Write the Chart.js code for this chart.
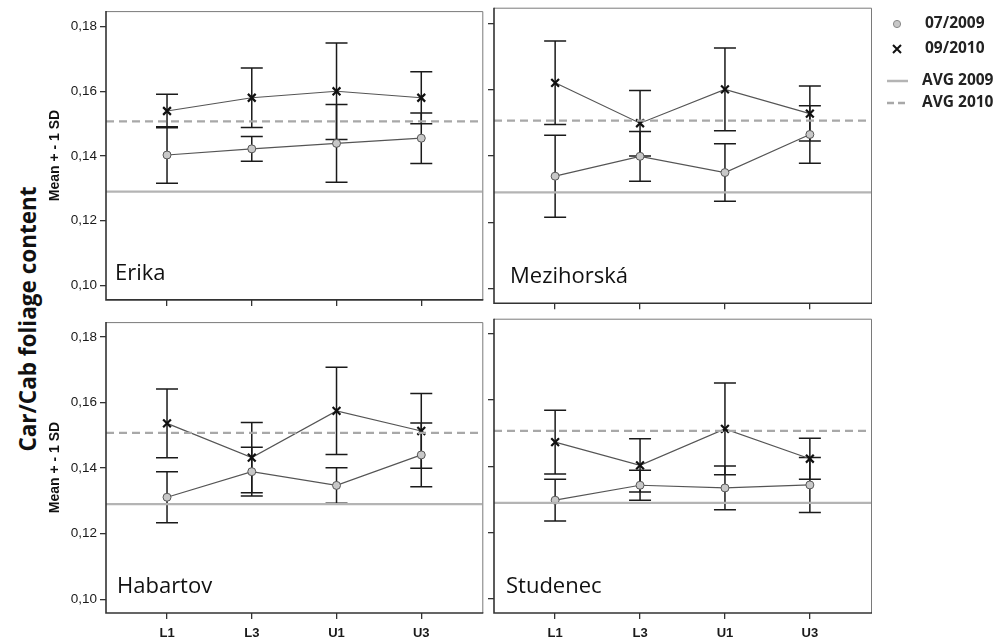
<!DOCTYPE html>
<html>
<head>
<meta charset="utf-8">
<script src="https://cdn.jsdelivr.net/npm/chart.js@4.4.0/dist/chart.umd.min.js"></script>
<style>
  body { margin: 0; background: #fff; width: 998px; height: 642px; position: relative; overflow: hidden; }
  canvas { position: absolute; }
  #bigTitle {
    position: absolute; left: 27px; top: 319px;
    transform: translate(-50%, -50%) rotate(-90deg);
    white-space: nowrap; font: bold 22.5px "Open Sans", sans-serif; color: #111;
  }
</style>
</head>
<body>
<div id="bigTitle">Car/Cab foliage content</div>
<canvas id="c0" width="490" height="311" style="left:0;top:0"></canvas>
<canvas id="c1" width="514" height="311" style="left:484px;top:0"></canvas>
<canvas id="c2" width="490" height="331" style="left:0;top:311px"></canvas>
<canvas id="c3" width="514" height="331" style="left:484px;top:311px"></canvas>
<script>
const categories = ["L1", "L3", "U1", "U3"];
const sites = ["Erika", "Mezihorská", "Habartov", "Studenec"];

// means and standard deviations, one row per site
const mean2009 = [
  [0.1403, 0.1422, 0.1439, 0.1455],
  [0.1339, 0.1399, 0.1350, 0.1465],
  [0.1311, 0.1389, 0.1347, 0.1440],
  [0.1298, 0.1343, 0.1335, 0.1344],
];
const sd2009 = [
  [0.0087, 0.0038, 0.0120, 0.0078],
  [0.0124, 0.0075, 0.0087, 0.0087],
  [0.0078, 0.0074, 0.0054, 0.0097],
  [0.0063, 0.0045, 0.0066, 0.0083],
];
const mean2010 = [
  [0.1539, 0.1580, 0.1600, 0.1580],
  [0.1621, 0.1499, 0.1601, 0.1528],
  [0.1536, 0.1432, 0.1574, 0.1513],
  [0.1473, 0.1403, 0.1513, 0.1423],
];
const sd2010 = [
  [0.0052, 0.0092, 0.0149, 0.0080],
  [0.0126, 0.0099, 0.0125, 0.0083],
  [0.0105, 0.0107, 0.0133, 0.0114],
  [0.0096, 0.0080, 0.0138, 0.0062],
];
const AVG_2009 = 0.1290;
const AVG_2010 = 0.1507;
const yTicks = [0.10, 0.12, 0.14, 0.16, 0.18];
const legendLabels = ["07/2009", "09/2010", "AVG 2009", "AVG 2010"];

const X_MIN = -0.72, X_MAX = 3.72;
const CAP = 11;

// panel layout (canvas-local chart areas)
const panels = [
  { id: "c0", site: 0, pad: { left: 40, top: 6, right: 7 }, yW: 66, xH: 6, yMin: 0.09552, yMax: 0.18478, yLab: true, xLab: false, nameX: 9 },
  { id: "c1", site: 1, pad: { left: 0, top: 6, right: 127 }, yW: 10, xH: 6, yMin: 0.09552, yMax: 0.18478, yLab: false, xLab: false, nameX: 16, legend: true },
  { id: "c2", site: 2, pad: { left: 40, top: 5, right: 7 }, yW: 66, xH: 29, yMin: 0.09582, yMax: 0.18448, yLab: true, xLab: true, nameX: 11 },
  { id: "c3", site: 3, pad: { left: 0, top: 5, right: 127 }, yW: 10, xH: 29, yMin: 0.09582, yMax: 0.18448, yLab: false, xLab: true, nameX: 12 },
];

const errorBars = {
  id: "errorBars",
  beforeDatasetsDraw(chart) {
    const { ctx, scales: { x, y } } = chart;
    ctx.save();
    ctx.strokeStyle = "#1a1a1a";
    ctx.lineWidth = 1.5;
    chart.data.datasets.forEach(ds => {
      if (!ds.sd) return;
      ds.data.forEach((pt, i) => {
        const px = x.getPixelForValue(pt.x);
        const top = y.getPixelForValue(pt.y + ds.sd[i]);
        const bot = y.getPixelForValue(pt.y - ds.sd[i]);
        ctx.beginPath();
        ctx.moveTo(px, top); ctx.lineTo(px, bot);
        ctx.moveTo(px - CAP, top); ctx.lineTo(px + CAP, top);
        ctx.moveTo(px - CAP, bot); ctx.lineTo(px + CAP, bot);
        ctx.stroke();
      });
    });
    ctx.restore();
  }
};

const frame = {
  id: "frame",
  afterDraw(chart, args, opts) {
    const { ctx, chartArea: a } = chart;
    ctx.save();
    ctx.lineWidth = 1;
    ctx.strokeStyle = "#7a7a7a";
    ctx.beginPath();
    ctx.moveTo(a.left, a.top + 0.5); ctx.lineTo(a.right + 0.5, a.top + 0.5); ctx.lineTo(a.right + 0.5, a.bottom);
    ctx.stroke();
    ctx.lineWidth = 1.6;
    ctx.strokeStyle = "#333";
    ctx.beginPath();
    ctx.moveTo(a.left, a.top); ctx.lineTo(a.left, a.bottom); ctx.lineTo(a.right + 1, a.bottom);
    ctx.stroke();
    // site name
    ctx.fillStyle = "#111";
    ctx.font = '22px "Open Sans", sans-serif';
    ctx.textBaseline = "alphabetic";
    ctx.fillText(opts.name, a.left + opts.dx, a.bottom - 20);
    ctx.restore();
  }
};

const legendBox = {
  id: "legendBox",
  afterDraw(chart, args, opts) {
    if (!opts.show) return;
    const { ctx } = chart;
    const mx = 413, tx = 438, ys = [24, 49, 81, 103];
    ctx.save();
    ctx.font = 'bold 15.5px "Open Sans", sans-serif';
    ctx.fillStyle = "#222";
    ctx.textBaseline = "middle";
    legendLabels.forEach((t, i) => ctx.fillText(t, i < 2 ? tx + 3 : tx, ys[i]));
    // markers
    ctx.beginPath();
    ctx.arc(mx, ys[0], 3.6, 0, Math.PI * 2);
    ctx.fillStyle = "#c8c8c8"; ctx.fill();
    ctx.strokeStyle = "#888"; ctx.lineWidth = 1; ctx.stroke();
    ctx.strokeStyle = "#111"; ctx.lineWidth = 2;
    ctx.beginPath();
    ctx.moveTo(mx - 4, ys[1] - 4); ctx.lineTo(mx + 4, ys[1] + 4);
    ctx.moveTo(mx + 4, ys[1] - 4); ctx.lineTo(mx - 4, ys[1] + 4);
    ctx.stroke();
    ctx.lineWidth = 2.5;
    ctx.strokeStyle = "#b4b4b4";
    ctx.beginPath(); ctx.moveTo(mx - 10, ys[2]); ctx.lineTo(mx + 11, ys[2]); ctx.stroke();
    ctx.setLineDash([7, 4]);
    ctx.strokeStyle = "#a8a8a8";
    ctx.beginPath(); ctx.moveTo(mx - 10, ys[3]); ctx.lineTo(mx + 11, ys[3]); ctx.stroke();
    ctx.restore();
  }
};

function makeChart(p) {
  const s = p.site;
  new Chart(document.getElementById(p.id), {
    type: "line",
    data: {
      datasets: [
        {
          label: "AVG 2009",
          data: [{ x: X_MIN, y: AVG_2009 }, { x: X_MAX, y: AVG_2009 }],
          borderColor: "#b4b4b4", borderWidth: 2.2, pointRadius: 0,
        },
        {
          label: "AVG 2010",
          data: [{ x: X_MIN, y: AVG_2010 }, { x: X_MAX, y: AVG_2010 }],
          borderColor: "#a8a8a8", borderWidth: 2.2, borderDash: [8, 5], pointRadius: 0,
        },
        {
          label: "07/2009",
          data: categories.map((c, i) => ({ x: i, y: mean2009[s][i] })),
          sd: sd2009[s],
          borderColor: "#555", borderWidth: 1.2,
          pointStyle: "circle", pointRadius: 4,
          pointBackgroundColor: "#c8c8c8", pointBorderColor: "#555", pointBorderWidth: 1,
        },
        {
          label: "09/2010",
          data: categories.map((c, i) => ({ x: i, y: mean2010[s][i] })),
          sd: sd2010[s],
          borderColor: "#555", borderWidth: 1.2,
          pointStyle: "crossRot", pointRadius: 5.5,
          pointBorderColor: "#111", pointBorderWidth: 2.2,
        },
      ],
    },
    options: {
      responsive: false,
      animation: false,
      layout: { padding: { left: p.pad.left, top: p.pad.top, right: p.pad.right, bottom: 0 } },
      plugins: {
        legend: { display: false },
        tooltip: { enabled: false },
        frame: { name: sites[s], dx: p.nameX },
        legendBox: { show: !!p.legend },
      },
      scales: {
        x: {
          type: "linear", min: X_MIN, max: X_MAX,
          afterBuildTicks: sc => { sc.ticks = categories.map((c, i) => ({ value: i })); },
          afterFit: sc => { sc.height = p.xH; },
          grid: { drawOnChartArea: false, tickLength: 6, color: "#333", lineWidth: 1.3 },
          border: { display: false },
          ticks: {
            display: p.xLab, padding: 7, color: "#1a1a1a",
            font: { family: "Liberation Sans", size: 13, weight: "bold" },
            callback: v => categories[v],
          },
        },
        y: {
          min: p.yMin, max: p.yMax,
          afterBuildTicks: sc => { sc.ticks = yTicks.map(v => ({ value: v })); },
          afterFit: sc => { sc.width = p.yW; },
          grid: { drawOnChartArea: false, tickLength: 6, color: "#333", lineWidth: 1.3 },
          border: { display: false },
          ticks: {
            display: p.yLab, padding: 3, color: "#1a1a1a",
            font: { family: "Liberation Sans", size: 13.5 },
            callback: v => v.toFixed(2).replace(".", ","),
          },
          title: {
            display: p.yLab, text: "Mean + - 1 SD", color: "#111",
            font: { family: "Liberation Sans", size: 14, weight: "bold" },
            padding: { top: 7, bottom: 0 },
          },
        },
      },
    },
    plugins: [errorBars, frame, legendBox],
  });
}

panels.forEach(makeChart);
</script>
</body>
</html>
